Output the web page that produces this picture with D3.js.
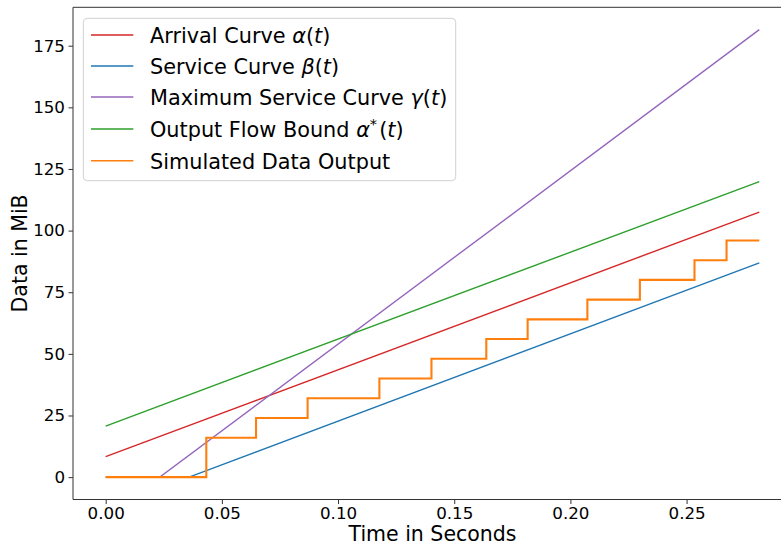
<!DOCTYPE html>
<html>
<head>
<meta charset="utf-8">
<script src="https://cdn.jsdelivr.net/npm/d3@7"></script>
<style>
  html, body { margin: 0; padding: 0; background: #fff; }
  svg { display: block; font-family: "DejaVu Sans", sans-serif; }
</style>
</head>
<body>
<svg id="chart" width="781" height="544"></svg>
<script>
// ---- data ----
const arrivalT = [0, 0.2813];
const arrivalV = [8.3, 107.5];

const serviceT = [0, 0.0359, 0.2813];
const serviceV = [0, 0, 86.9];

const maxServiceT = [0, 0.0233, 0.2813];
const maxServiceV = [0, 0, 181.5];

const outputBoundT = [0, 0.2813];
const outputBoundV = [20.7, 119.9];

const simT = [0, 0.0433, 0.0647, 0.0869, 0.1178, 0.1402, 0.1638, 0.1816, 0.2073, 0.2299, 0.2534, 0.2672, 0.2813];
const simV = [0, 16, 24, 32, 40, 48, 56, 64, 72, 80, 88, 96, 96];

const xTicks = [0, 0.05, 0.10, 0.15, 0.20, 0.25];
const yTicks = [0, 25, 50, 75, 100, 125, 150, 175];

const seriesNames = ["Arrival Curve", "Service Curve", "Maximum Service Curve", "Output Flow Bound", "Simulated Data Output"];
const seriesColors = ["#d62728", "#1f77b4", "#9467bd", "#2ca02c", "#ff7f0e"];

// ---- layout ----
const svg = d3.select("#chart");
const L = 73, R = 792, T = 7.3, B = 499.5;
const x = d3.scaleLinear().domain([-0.014065, 0.295365]).range([L, R]);
const y = d3.scaleLinear().domain([-9.075, 190.575]).range([B, T]);

svg.append("defs").append("clipPath").attr("id", "clip")
  .append("rect").attr("x", L).attr("y", T).attr("width", R - L).attr("height", B - T);

const zip = (ts, vs) => ts.map((t, i) => [t, vs[i]]);
const series = [
  { pts: zip(arrivalT, arrivalV), curve: d3.curveLinear, w: 1.4 },
  { pts: zip(serviceT, serviceV), curve: d3.curveLinear, w: 1.4 },
  { pts: zip(maxServiceT, maxServiceV), curve: d3.curveLinear, w: 1.4 },
  { pts: zip(outputBoundT, outputBoundV), curve: d3.curveLinear, w: 1.4 },
  { pts: zip(simT, simV), curve: d3.curveStepAfter, w: 2.1 }
];

const plot = svg.append("g").attr("clip-path", "url(#clip)");
series.forEach((s, i) => {
  const line = d3.line().x(d => x(d[0])).y(d => y(d[1])).curve(s.curve);
  plot.append("path").datum(s.pts)
    .attr("fill", "none")
    .attr("stroke", seriesColors[i])
    .attr("stroke-width", s.w)
    .attr("stroke-linejoin", "miter")
    .attr("d", line);
});

// ---- axes ----
const tickFont = 16.7;
const xAxis = d3.axisBottom(x).tickValues(xTicks).tickFormat(d3.format(".2f")).tickSize(4.5).tickPadding(3.5);
const yAxis = d3.axisLeft(y).tickValues(yTicks).tickFormat(d3.format("d")).tickSize(4.5).tickPadding(3.5);

const gx = svg.append("g").attr("transform", `translate(0,${B})`).call(xAxis);
const gy = svg.append("g").attr("transform", `translate(${L},0)`).call(yAxis);
[gx, gy].forEach(g => {
  g.select(".domain").remove();
  g.selectAll(".tick line").attr("stroke", "#333").attr("stroke-width", 1);
  g.selectAll(".tick text").attr("fill", "#000").style("font-size", tickFont + "px").style("font-family", "DejaVu Sans");
});

// spines
svg.append("line").attr("x1", L).attr("x2", L).attr("y1", T).attr("y2", B).attr("stroke", "#333").attr("stroke-width", 1);
svg.append("line").attr("x1", L).attr("x2", R).attr("y1", T).attr("y2", T).attr("stroke", "#333").attr("stroke-width", 1);
svg.append("line").attr("x1", L).attr("x2", R).attr("y1", B).attr("y2", B).attr("stroke", "#333").attr("stroke-width", 1);
svg.append("line").attr("x1", R).attr("x2", R).attr("y1", T).attr("y2", B).attr("stroke", "#333").attr("stroke-width", 1);

// axis labels
const labelFont = 20.5;
svg.append("text").attr("x", (L + R) / 2).attr("y", 541)
  .attr("text-anchor", "middle").style("font-size", labelFont + "px").text("Time in Seconds");
svg.append("text").attr("transform", `translate(26.5,${(T + B) / 2}) rotate(-90)`)
  .attr("text-anchor", "middle").style("font-size", labelFont + "px").text("Data in MiB");

// ---- legend ----
const lg = svg.append("g");
lg.append("rect").attr("x", 83.3).attr("y", 18.3).attr("width", 372.4).attr("height", 162.4)
  .attr("rx", 4).attr("fill", "#fff").attr("fill-opacity", 0.8).attr("stroke", "#d0d0d0").attr("stroke-width", 1);
const rowY = [35, 66, 97, 129, 160.7];
const legFont = 20.8;
seriesNames.forEach((name, i) => {
  const yy = rowY[i];
  lg.append("line").attr("x1", 91).attr("x2", 133.3).attr("y1", yy).attr("y2", yy)
    .attr("stroke", seriesColors[i]).attr("stroke-width", 1.4);
  const t = lg.append("text").attr("x", 150).attr("y", yy + 8.3).style("font-size", legFont + "px");
  t.append("tspan").text(name);
  if (i === 0) {
    t.append("tspan").text(" ");
    t.append("tspan").style("font-style", "italic").text("α");
    t.append("tspan").text("(");
    t.append("tspan").style("font-style", "italic").text("t");
    t.append("tspan").text(")");
  } else if (i === 1) {
    t.append("tspan").text(" ");
    t.append("tspan").style("font-style", "italic").text("β");
    t.append("tspan").text("(");
    t.append("tspan").style("font-style", "italic").text("t");
    t.append("tspan").text(")");
  } else if (i === 2) {
    t.append("tspan").text(" ");
    t.append("tspan").style("font-style", "italic").text("γ");
    t.append("tspan").text("(");
    t.append("tspan").style("font-style", "italic").text("t");
    t.append("tspan").text(")");
  } else if (i === 3) {
    t.append("tspan").text(" ");
    t.append("tspan").style("font-style", "italic").text("α");
    t.append("tspan").attr("dy", -8).style("font-size", (legFont * 0.7) + "px").text("*");
    t.append("tspan").attr("dy", 8).attr("dx", 2).text("(");
    t.append("tspan").style("font-style", "italic").text("t");
    t.append("tspan").text(")");
  }
});
</script>
</body>
</html>
